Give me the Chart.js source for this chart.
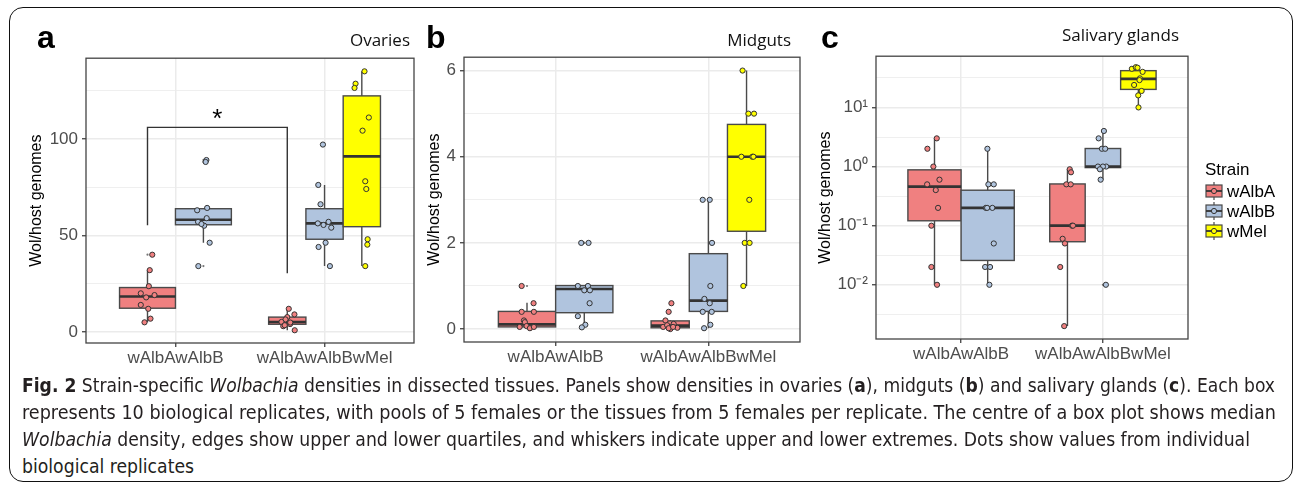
<!DOCTYPE html>
<html>
<head>
<meta charset="utf-8">
<script src="https://cdn.jsdelivr.net/npm/chart.js@4.4.1/dist/chart.umd.min.js"></script>
<style>
html,body{margin:0;padding:0;background:#fff;}
body{width:1293px;height:487px;overflow:hidden;position:relative;font-family:"Liberation Sans",Arial,sans-serif;}
#frame{position:absolute;left:9px;top:7px;width:1284px;height:475px;border:1.6px solid #111;border-radius:14px;box-sizing:border-box;}
canvas{position:absolute;}
.letter{position:absolute;font-weight:bold;font-size:32px;line-height:32px;font-family:"Liberation Sans",Arial,sans-serif;color:#000;}
.ptitle{position:absolute;font-size:17px;line-height:17px;font-family:"Open Sans","Liberation Sans",sans-serif;color:#111;white-space:nowrap;}
.cap{position:absolute;left:22px;white-space:nowrap;font-family:"Liberation Sans Narrow","DejaVu Sans Condensed","Liberation Sans",sans-serif;font-size:19px;line-height:27px;color:#231f20;transform-origin:0 0;}
</style>
</head>
<body>
<div id="frame"></div>
<canvas id="cA" width="400" height="330" style="left:20px;top:44px;"></canvas>
<canvas id="cB" width="386" height="330" style="left:420px;top:43px;"></canvas>
<canvas id="cC" width="480" height="330" style="left:810px;top:42px;"></canvas>
<div class="letter" style="left:37px;top:21px;">a</div>
<div class="letter" style="left:426px;top:21px;">b</div>
<div class="letter" style="left:821px;top:21px;">c</div>
<div class="ptitle" style="right:883px;top:31px;">Ovaries</div>
<div class="ptitle" style="right:502px;top:31px;">Midguts</div>
<div class="ptitle" style="right:114px;top:26px;">Salivary glands</div>
<div class="cap" style="top:372px;"><b>Fig. 2</b> Strain-specific <i>Wolbachia</i> densities in dissected tissues. Panels show densities in ovaries (<b>a</b>), midguts (<b>b</b>) and salivary glands (<b>c</b>). Each box</div>
<div class="cap" style="top:399px;">represents 10 biological replicates, with pools of 5 females or the tissues from 5 females per replicate. The centre of a box plot shows median</div>
<div class="cap" style="top:426px;"><i>Wolbachia</i> density, edges show upper and lower quartiles, and whiskers indicate upper and lower extremes. Dots show values from individual</div>
<div class="cap" style="top:453px;">biological replicates</div>
<script>
// ---------------- DATA ----------------
const categories = ['wAlbAwAlbB', 'wAlbAwAlbBwMel'];
const strains = ['wAlbA', 'wAlbB', 'wMel'];
const yTitle = 'Wol/host genomes';

// Ovaries (panel a)
const ovariesYMajor = [0, 50, 100];
const ovariesYLabels = ['0', '50', '100'];
const ovariesYMinor = [25, 75, 125];
const ovaries_wAlbA_1 = [40.1, 32.1, 23.8, 20.1, 18.0, 19.2, 14.1, 12.1, 7.0, 5.1];
const ovaries_wAlbA_1_jitter = [0.032, 0.015, 0.009, -0.045, -0.009, 0.047, -0.045, 0.005, 0.02, -0.02];
const ovaries_wAlbA_1_box = [5.1, 12.4, 18.5, 23.1, 32.1];
const ovaries_wAlbB_1 = [89.1, 88.1, 64.3, 63.1, 59.0, 57.1, 55.1, 46.3, 34.2, 56.0];
const ovaries_wAlbB_1_jitter = [0.02, 0.015, 0.025, -0.042, 0.022, -0.036, 0.005, 0.042, -0.034, -0.013];
const ovaries_wAlbB_1_box = [46.3, 55.6, 58.2, 63.9, 64.3];
const ovaries_wAlbA_2 = [12.1, 9.2, 7.8, 6.6, 5.3, 4.2, 3.1, 1.0, 5.0, 3.6];
const ovaries_wAlbA_2_jitter = [0.01, 0.048, 0, -0.012, -0.039, 0.019, -0.027, 0.05, 0.02, -0.017];
const ovaries_wAlbA_2_box = [1.0, 4.1, 5.3, 7.8, 12.1];
const ovaries_wAlbB_2 = [97.1, 76.2, 66.2, 56.3, 57.1, 54.1, 46.3, 44.1, 34.2, 55.5];
const ovaries_wAlbB_2_jitter = [-0.011, -0.042, -0.027, -0.045, 0.027, 0.045, 0.007, -0.04, 0.036, -0.007];
const ovaries_wAlbB_2_box = [34.2, 48.1, 56.3, 63.9, 76.2];
const ovaries_wMel_2 = [135.0, 128.6, 126.4, 111.1, 104.3, 78.1, 74.1, 48.1, 45.3, 34.2];
const ovaries_wMel_2_jitter = [0.018, -0.042, -0.049, 0.047, 0.005, 0.023, 0.03, 0.039, 0.037, 0.023];
const ovaries_wMel_2_box = [34.2, 54.6, 91.0, 122.3, 135.0];
const ovariesBracketY = [55.4, 106.0, 30.5];   // left end, top, right end
const ovariesBracketLabel = '*';
const ovariesBracketLabelY = 114;

// Midguts (panel b)
const midgutsYMajor = [0, 2, 4, 6];
const midgutsYLabels = ['0', '2', '4', '6'];
const midgutsYMinor = [1, 3, 5];
const midguts_wAlbA_1 = [1.0, 0.6, 0.4, 0.4, 0.2, 0.16, 0.05, 0.07, 0.02, 0.05];
const midguts_wAlbA_1_jitter = [-0.035, 0.043, -0.035, 0.045, -0.02, -0.014, -0.048, -0.003, 0.019, 0.045];
const midguts_wAlbA_1_box = [0.02, 0.05, 0.11, 0.41, 0.61];
const midguts_wAlbB_1 = [2.0, 2.0, 1.0, 1.0, 0.9, 0.9, 0.6, 0.3, 0.1, 0.04];
const midguts_wAlbB_1_jitter = [-0.02, 0.028, -0.042, 0.024, 0, 0.037, 0.035, -0.042, 0.007, -0.016];
const midguts_wAlbB_1_box = [0.04, 0.38, 0.93, 1.01, 1.01];
const midguts_wAlbA_2 = [0.6, 0.4, 0.2, 0.12, 0.05, 0.0, 0.03, 0.09, 0.02, 0.05];
const midguts_wAlbA_2_jitter = [0.008, -0.01, -0.031, 0.023, -0.046, 0.001, 0.047, -0.02, -0.01, 0.019];
const midguts_wAlbA_2_box = [0.0, 0.03, 0.08, 0.19, 0.21];
const midguts_wAlbB_2 = [3.0, 3.0, 2.0, 1.0, 0.7, 0.6, 0.4, 0.4, 0.1, 0.02];
const midguts_wAlbB_2_jitter = [-0.037, 0.009, 0.024, 0.013, -0.026, 0.009, -0.037, 0.022, 0.013, -0.028];
const midguts_wAlbB_2_box = [0.02, 0.41, 0.66, 1.75, 3.0];
const midguts_wMel_2 = [6.0, 5.0, 5.0, 4.0, 4.0, 4.0, 3.0, 2.0, 2.0, 1.0];
const midguts_wMel_2_jitter = [-0.026, 0.012, 0.049, -0.034, 0.038, 0.045, 0.018, -0.012, 0.02, -0.021];
const midguts_wMel_2_box = [1.0, 2.27, 4.0, 4.75, 6.0];

// Salivary glands (panel c, log scale)
const salivaryYMajor = [0.01, 0.1, 1, 10];
const salivaryYLabels = ['10\u207B\u00B2', '10\u207B\u00B9', '10\u2070', '10\u00B9'];
const salivaryYMinor = [0.00316, 0.0316, 0.316, 3.16, 31.6];
const salivary_wAlbA_1 = [3, 2, 1, 0.6, 0.5, 0.4, 0.2, 0.1, 0.02, 0.01];
const salivary_wAlbA_1_jitter = [0.016, -0.05, -0.008, 0.035, -0.052, 0.009, 0.025, -0.022, -0.022, 0.018];
const salivary_wAlbA_1_box = [0.01, 0.121, 0.458, 0.88, 3];
const salivary_wAlbB_1 = [2, 0.5, 0.5, 0.2, 0.2, 0.2, 0.05, 0.02, 0.02, 0.01];
const salivary_wAlbB_1_jitter = [-0.002, 0.005, 0.043, -0.013, -0.004, 0.033, 0.043, -0.018, 0.017, 0.012];
const salivary_wAlbB_1_box = [0.01, 0.0258, 0.2, 0.398, 2];
const salivary_wAlbA_2 = [0.9, 0.8, 0.5, 0.5, 0.1, 0.1, 0.06, 0.05, 0.02, 0.002];
const salivary_wAlbA_2_jitter = [0.016, 0.025, -0.008, 0.023, 0.032, 0.039, -0.034, -0.018, -0.051, -0.023];
const salivary_wAlbA_2_box = [0.002, 0.0535, 0.1, 0.508, 0.9];
const salivary_wAlbB_2 = [4, 3, 2, 2, 1, 1, 1, 0.9, 0.6, 0.01];
const salivary_wAlbB_2_jitter = [0.007, -0.03, -0.007, 0.016, -0.035, 0.023, 0.0, -0.021, -0.016, 0.021];
const salivary_wAlbB_2_box = [0.6, 0.96, 1.0, 2.02, 4];
const salivary_wMel_2 = [45, 48, 47, 40, 31, 29, 24, 19, 16, 10];
const salivary_wMel_2_jitter = [-0.046, -0.018, -0.006, 0.03, 0.011, 0.008, -0.03, 0.023, -0.001, 0.001];
const salivary_wMel_2_box = [10, 20.2, 30.4, 41.9, 48];

// ---------------- STYLE ----------------
const strainColors = ['#F08080', '#B0C4DE', '#FFFF00'];
const DODGE = 0.75;
const FONT = '"Liberation Sans", Arial, Helvetica, sans-serif';
Chart.defaults.font.family = FONT;
Chart.defaults.animation = false;

function slotPos(g, k, n) { return g + 1 + (k - (n - 1) / 2) * DODGE / n; }

function line(ctx, x1, y1, x2, y2) { ctx.beginPath(); ctx.moveTo(x1, y1); ctx.lineTo(x2, y2); ctx.stroke(); }

function makeDrawPlugin(boxes, bracket, legend) {
  return {
    id: 'boxdraw',
    beforeDatasetsDraw(chart) {
      const xs = chart.scales.x, ys = chart.scales.y, ctx = chart.ctx, a = chart.chartArea;
      ctx.save();
      ctx.beginPath(); ctx.rect(a.left, a.top, a.right - a.left, a.bottom - a.top); ctx.clip();
      boxes.forEach(b => {
        const [lo, q1, med, q3, hi] = b.stats;
        const xl = xs.getPixelForValue(b.pos - b.w / 2), xr = xs.getPixelForValue(b.pos + b.w / 2);
        const xc = xs.getPixelForValue(b.pos);
        const yLo = ys.getPixelForValue(lo), yQ1 = ys.getPixelForValue(q1), yMed = ys.getPixelForValue(med);
        const yQ3 = ys.getPixelForValue(q3), yHi = ys.getPixelForValue(hi);
        ctx.strokeStyle = '#4a4a4a'; ctx.lineWidth = 1.4;
        line(ctx, xc, yQ3, xc, yHi); line(ctx, xc, yQ1, xc, yLo);
        ctx.fillStyle = b.color;
        ctx.fillRect(xl, yQ3, xr - xl, yQ1 - yQ3);
        ctx.strokeRect(xl, yQ3, xr - xl, yQ1 - yQ3);
        ctx.strokeStyle = '#333'; ctx.lineWidth = 2.6;
        line(ctx, xl, yMed, xr, yMed);
        ctx.fillStyle = '#777';
        b.outliers.forEach(v => { const y = ys.getPixelForValue(v); ctx.beginPath(); ctx.arc(xc, y, 1.1, 0, Math.PI * 2); ctx.fill(); });
      });
      ctx.restore();
    },
    afterDatasetsDraw(chart) {
      const xs = chart.scales.x, ys = chart.scales.y, ctx = chart.ctx, a = chart.chartArea;
      ctx.save();
      ctx.strokeStyle = '#444'; ctx.lineWidth = 1.3;
      ctx.strokeRect(a.left, a.top, a.right - a.left, a.bottom - a.top);
      if (bracket) {
        const x1 = xs.getPixelForValue(bracket.x1), x2 = xs.getPixelForValue(bracket.x2);
        const [yl, yt, yr] = bracket.y.map(v => ys.getPixelForValue(v));
        ctx.strokeStyle = '#333'; ctx.lineWidth = 1.4;
        ctx.beginPath(); ctx.moveTo(x1, yl); ctx.lineTo(x1, yt); ctx.lineTo(x2, yt); ctx.lineTo(x2, yr); ctx.stroke();
        ctx.fillStyle = '#000'; ctx.font = '26px ' + FONT; ctx.textAlign = 'center'; ctx.textBaseline = 'alphabetic';
        ctx.fillText(bracket.label, (x1 + x2) / 2, ys.getPixelForValue(bracket.labelY) + 0.57 * 26);
      }
      ctx.restore();
    },
    afterDraw(chart) {
      if (!legend) return;
      const ctx = chart.ctx;
      ctx.save();
      ctx.fillStyle = '#000'; ctx.font = '17px ' + FONT; ctx.textAlign = 'left'; ctx.textBaseline = 'alphabetic';
      ctx.fillText(legend.title, legend.x, legend.titleY);
      strains.forEach((name, i) => {
        const cy = legend.y0 + i * legend.dy, x0 = legend.x + 1, cx = x0 + 8;
        ctx.strokeStyle = '#4a4a4a'; ctx.lineWidth = 1.2;
        line(ctx, cx, cy - 9, cx, cy + 9);
        ctx.fillStyle = strainColors[i];
        ctx.fillRect(x0, cy - 6, 16, 12); ctx.strokeRect(x0, cy - 6, 16, 12);
        ctx.strokeStyle = '#333'; ctx.lineWidth = 1.8; line(ctx, x0, cy, x0 + 16, cy);
        ctx.fillStyle = strainColors[i]; ctx.strokeStyle = '#333'; ctx.lineWidth = 1;
        ctx.beginPath(); ctx.arc(cx, cy, 2.6, 0, Math.PI * 2); ctx.fill(); ctx.stroke();
        ctx.fillStyle = '#000'; ctx.textBaseline = 'middle';
        ctx.fillText(name, x0 + 21, cy + 1);
        ctx.textBaseline = 'alphabetic';
      });
      ctx.restore();
    }
  };
}

function buildPanel(cfg) {
  const nIn = {}, kIn = {};
  cfg.series.forEach(s => { nIn[s.g] = (nIn[s.g] || 0) + 1; });
  cfg.series.forEach(s => {
    kIn[s.g] = kIn[s.g] === undefined ? 0 : kIn[s.g] + 1;
    s.n = nIn[s.g]; s.pos = slotPos(s.g, kIn[s.g], s.n); s.w = DODGE / s.n;
  });
  const datasets = strains.map((name, i) => ({
    label: name, data: [], backgroundColor: strainColors[i], borderColor: '#333',
    borderWidth: 1, pointRadius: 2.6, pointHoverRadius: 2.6
  }));
  cfg.series.forEach(s => s.values.forEach((v, i) => datasets[s.s].data.push({ x: s.pos + s.jitter[i], y: v })));
  const boxes = cfg.series.map(s => ({
    pos: s.pos, w: s.w, stats: s.box, color: strainColors[s.s],
    outliers: s.values.filter(v => v > s.box[4] * 1.001 + 1e-9 || v < s.box[0] * 0.999 - 1e-9)
  }));
  let bracket = null;
  if (cfg.bracket) {
    const b = cfg.bracket;
    const sa = cfg.series[b.from], sb = cfg.series[b.to];
    bracket = { x1: sa.pos, x2: sb.pos, y: b.y, label: b.label, labelY: b.labelY };
  }
  const isMajor = v => cfg.yMajor.some(m => Math.abs(m - v) <= 1e-6 * Math.max(Math.abs(m), 1e-6));
  const yTicks = cfg.yMajor.concat(cfg.yMinor).sort((p, q) => p - q);
  new Chart(document.getElementById(cfg.id), {
    type: 'scatter',
    data: { datasets },
    options: {
      responsive: false, animation: false, events: [],
      layout: { padding: cfg.padding },
      plugins: { legend: { display: false }, tooltip: { enabled: false } },
      scales: {
        x: {
          type: 'linear', min: 0.4, max: 2.6,
          afterBuildTicks: sc => { sc.ticks = categories.map((c, i) => ({ value: i + 1 })); },
          afterFit: sc => { sc.height = cfg.xAxisHeight; },
          ticks: { autoSkip: false, maxRotation: 0, color: '#4D4D4D', font: { size: 17 }, padding: 1,
            callback: v => categories[Math.round(v) - 1] },
          grid: { color: '#EBEBEB', lineWidth: 1.5, tickLength: 4, tickWidth: 1.2, tickColor: '#333' },
          border: { display: false }
        },
        y: {
          type: cfg.yType, min: cfg.yMin, max: cfg.yMax,
          afterBuildTicks: sc => { sc.ticks = yTicks.map(v => ({ value: v })); },
          afterFit: sc => { sc.width = cfg.yAxisWidth; },
          ticks: { autoSkip: false, color: '#4D4D4D', font: { size: 17 }, padding: 4,
            callback: v => { const i = cfg.yMajor.findIndex(m => Math.abs(m - v) <= 1e-6 * Math.max(Math.abs(m), 1e-6)); return i >= 0 ? cfg.yLabels[i] : ''; } },
          grid: {
            color: '#EBEBEB',
            lineWidth: c => (c.tick && isMajor(c.tick.value)) ? 1.5 : 0.8,
            tickLength: 4, tickWidth: 1.2,
            tickColor: c => (c.tick && isMajor(c.tick.value)) ? '#333' : 'rgba(0,0,0,0)'
          },
          border: { display: false },
          title: { display: true, text: yTitle, color: '#000', font: { size: 16 }, padding: { top: cfg.titlePad, bottom: 0 } }
        }
      }
    },
    plugins: [makeDrawPlugin(boxes, bracket, cfg.legend)]
  });
}

buildPanel({
  id: 'cA', yType: 'linear', yMin: -5.6, yMax: 141.8,
  yMajor: ovariesYMajor, yMinor: ovariesYMinor, yLabels: ovariesYLabels,
  padding: { top: 10, right: 6, left: 0, bottom: 0 }, yAxisWidth: 66, xAxisHeight: 31, titlePad: 7.4,
  series: [
    { g: 0, s: 0, values: ovaries_wAlbA_1, jitter: ovaries_wAlbA_1_jitter, box: ovaries_wAlbA_1_box },
    { g: 0, s: 1, values: ovaries_wAlbB_1, jitter: ovaries_wAlbB_1_jitter, box: ovaries_wAlbB_1_box },
    { g: 1, s: 0, values: ovaries_wAlbA_2, jitter: ovaries_wAlbA_2_jitter, box: ovaries_wAlbA_2_box },
    { g: 1, s: 1, values: ovaries_wAlbB_2, jitter: ovaries_wAlbB_2_jitter, box: ovaries_wAlbB_2_box },
    { g: 1, s: 2, values: ovaries_wMel_2, jitter: ovaries_wMel_2_jitter, box: ovaries_wMel_2_box }
  ],
  bracket: { from: 0, to: 2, y: ovariesBracketY, label: ovariesBracketLabel, labelY: ovariesBracketLabelY }
});

buildPanel({
  id: 'cB', yType: 'linear', yMin: -0.30, yMax: 6.31,
  yMajor: midgutsYMajor, yMinor: midgutsYMinor, yLabels: midgutsYLabels,
  padding: { top: 10, right: 6, left: 0, bottom: 0 }, yAxisWidth: 44, xAxisHeight: 31, titlePad: 5.4,
  series: [
    { g: 0, s: 0, values: midguts_wAlbA_1, jitter: midguts_wAlbA_1_jitter, box: midguts_wAlbA_1_box },
    { g: 0, s: 1, values: midguts_wAlbB_1, jitter: midguts_wAlbB_1_jitter, box: midguts_wAlbB_1_box },
    { g: 1, s: 0, values: midguts_wAlbA_2, jitter: midguts_wAlbA_2_jitter, box: midguts_wAlbA_2_box },
    { g: 1, s: 1, values: midguts_wAlbB_2, jitter: midguts_wAlbB_2_jitter, box: midguts_wAlbB_2_box },
    { g: 1, s: 2, values: midguts_wMel_2, jitter: midguts_wMel_2_jitter, box: midguts_wMel_2_box }
  ]
});

buildPanel({
  id: 'cC', yType: 'logarithmic', yMin: 0.00121, yMax: 73.6,
  yMajor: salivaryYMajor, yMinor: salivaryYMinor, yLabels: salivaryYLabels,
  padding: { top: 10, right: 102, left: 0, bottom: 0 }, yAxisWidth: 66, xAxisHeight: 33, titlePad: 6.4,
  series: [
    { g: 0, s: 0, values: salivary_wAlbA_1, jitter: salivary_wAlbA_1_jitter, box: salivary_wAlbA_1_box },
    { g: 0, s: 1, values: salivary_wAlbB_1, jitter: salivary_wAlbB_1_jitter, box: salivary_wAlbB_1_box },
    { g: 1, s: 0, values: salivary_wAlbA_2, jitter: salivary_wAlbA_2_jitter, box: salivary_wAlbA_2_box },
    { g: 1, s: 1, values: salivary_wAlbB_2, jitter: salivary_wAlbB_2_jitter, box: salivary_wAlbB_2_box },
    { g: 1, s: 2, values: salivary_wMel_2, jitter: salivary_wMel_2_jitter, box: salivary_wMel_2_box }
  ],
  legend: { title: 'Strain', x: 395, titleY: 133, y0: 149, dy: 20 }
});

function fitCaption() {
  const targets = [1253, 1254, 1228];
  const els = document.querySelectorAll('.cap');
  let last = 1;
  els.forEach((el, i) => {
    el.style.transform = 'none';
    const w = el.getBoundingClientRect().width;
    const s = targets[i] ? targets[i] / w : last;
    last = s;
    el.style.transform = 'scaleX(' + s + ')';
  });
}
fitCaption();
if (document.fonts && document.fonts.ready) document.fonts.ready.then(fitCaption);
</script>
</body>
</html>
